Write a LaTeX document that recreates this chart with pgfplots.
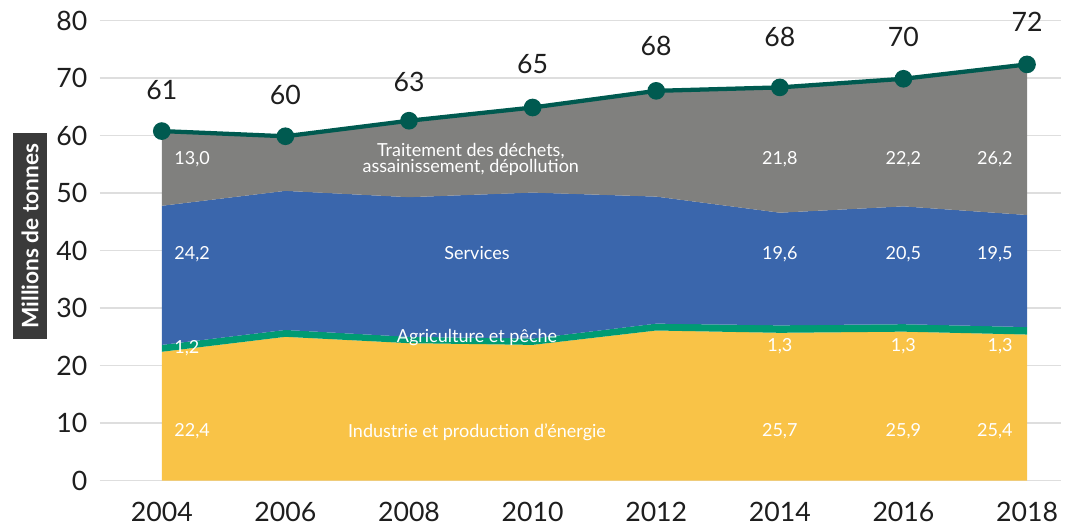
\documentclass[border=0pt]{standalone}
\usepackage{fontspec}
\setmainfont{Lato}
\usepackage{pgfplots}
\pgfplotsset{compat=1.18}
\definecolor{cInd}{RGB}{249,195,71}
\definecolor{cAgr}{RGB}{0,155,115}
\definecolor{cSer}{RGB}{58,102,172}
\definecolor{cTra}{RGB}{128,128,126}
\definecolor{cLine}{RGB}{0,90,80}
\definecolor{cGrid}{RGB}{222,222,222}
\definecolor{cBox}{RGB}{58,58,58}
\definecolor{cTxt}{RGB}{30,30,30}
\tikzset{
  tl/.style={font=\fontsize{20}{22}\selectfont, text=cTxt},
  al/.style={font=\fontsize{13.5}{12}\selectfont, text=white, inner sep=0pt},
}
\begin{document}
\begin{tikzpicture}
\path (-75pt,-37.1pt) rectangle (726.75pt,360.4pt);
\begin{axis}[
  at={(0,0)}, anchor=south west,
  scale only axis, width=720.75pt, height=344.85pt,
  xmin=2003, xmax=2018.55, ymin=0, ymax=80,
  axis line style={draw=none},
  ytick={0,10,...,80}, xtick={2004,2006,...,2018},
  ymajorgrids, grid style={cGrid, line width=1.1pt},
  major tick length=0pt,
  stack plots=y, reverse stacked plots=false,
  /pgf/number format/assume math mode=true,
  /pgf/number format/set thousands separator={},
  tick label style={font=\fontsize{20}{22}\selectfont, text=cTxt},
  yticklabel style={xshift=-6pt},
  xticklabel style={yshift=-13pt},
  clip=false,
]
\addplot[fill=cInd, draw=none] coordinates {(2004,22.4) (2006,25.0) (2008,23.9) (2010,23.6) (2012,26.1) (2014,25.7) (2016,25.9) (2018,25.4)} \closedcycle;
\addplot[fill=cAgr, draw=none] coordinates {(2004,1.2) (2006,1.2) (2008,1.1) (2010,1.1) (2012,1.2) (2014,1.3) (2016,1.3) (2018,1.3)} \closedcycle;
\addplot[fill=cSer, draw=none] coordinates {(2004,24.2) (2006,24.2) (2008,24.3) (2010,25.4) (2012,22.1) (2014,19.6) (2016,20.5) (2018,19.5)} \closedcycle;
\addplot[fill=cTra, draw=none] coordinates {(2004,13.0) (2006,9.5) (2008,13.3) (2010,14.8) (2012,18.4) (2014,21.8) (2016,22.2) (2018,26.2)} \closedcycle;
\addplot[draw=cLine, line width=3.2pt, mark=*, mark size=5pt, mark options={fill=cLine, draw=none}] coordinates {(2004,0) (2006,0) (2008,0) (2010,0) (2012,0) (2014,0) (2016,0) (2018,0)};
\node[tl] at (axis cs:2004,67.9) {61};
\node[tl] at (axis cs:2006,67.0) {60};
\node[tl] at (axis cs:2008,69.4) {63};
\node[tl] at (axis cs:2010,72.5) {65};
\node[tl] at (axis cs:2012,75.6) {68};
\node[tl] at (axis cs:2014,77.2) {68};
\node[tl] at (axis cs:2016,77.1) {70};
\node[tl] at (axis cs:2018,79.8) {72};
\node[al,anchor=west] at (axis cs:2004.2,55.9) {13,0};
\node[al,anchor=west] at (axis cs:2004.2,39.4) {24,2};
\node[al,anchor=west] at (axis cs:2004.2,23.1) {1,2};
\node[al,anchor=west] at (axis cs:2004.2,8.5) {22,4};
\node[al] at (axis cs:2014,55.9) {21,8};
\node[al] at (axis cs:2014,39.4) {19,6};
\node[al] at (axis cs:2014,23.3) {1,3};
\node[al] at (axis cs:2014,8.5) {25,7};
\node[al] at (axis cs:2016,55.9) {22,2};
\node[al] at (axis cs:2016,39.4) {20,5};
\node[al] at (axis cs:2016,23.3) {1,3};
\node[al] at (axis cs:2016,8.5) {25,9};
\node[al,anchor=east] at (axis cs:2017.77,55.9) {26,2};
\node[al,anchor=east] at (axis cs:2017.77,39.4) {19,5};
\node[al,anchor=east] at (axis cs:2017.77,23.3) {1,3};
\node[al,anchor=east] at (axis cs:2017.77,8.5) {25,4};
\node[al,align=center] at (axis cs:2009.0,55.8) {Traitement des déchets,\\assainissement, dépollution};
\node[al] at (axis cs:2009.1,39.6) {Services};
\node[al] at (axis cs:2009.1,24.8) {Agriculture et pêche};
\node[al] at (axis cs:2009.1,8.4) {Industrie et production d'énergie};
\end{axis}
\node[rotate=90, fill=cBox, text=white, font=\bfseries\fontsize{17}{18}\selectfont, minimum width=154pt, minimum height=25.5pt, inner sep=0pt] at (-52.5pt,183.4pt) {Millions de tonnes};
\end{tikzpicture}
\end{document}
